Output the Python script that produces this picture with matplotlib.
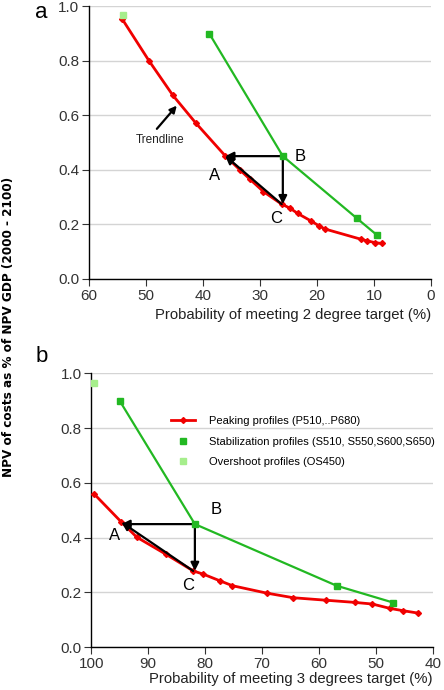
import matplotlib.pyplot as plt
import numpy as np

plt.rcParams['font.family'] = ['Liberation Sans', 'DejaVu Sans']

# panel a: probability of meeting 2 degree target
peak2_x = [54.2, 49.5, 45.3, 41.3, 36.1, 33.5, 31.8, 29.4, 26.2, 24.7, 23.4,
           21.1, 19.6, 18.6, 12.2, 11.3, 9.8, 8.6]
peak2_y = [0.953, 0.800, 0.673, 0.572, 0.451, 0.399, 0.366, 0.320, 0.274,
           0.259, 0.240, 0.213, 0.194, 0.183, 0.145, 0.140, 0.133, 0.130]
stab2_x = [38.9, 26.0, 13.0, 9.5]
stab2_y = [0.899, 0.450, 0.222, 0.161]
over2_x = [54.0]
over2_y = [0.966]

# panel b: probability of meeting 3 degrees target
peak3_x = [99.5, 94.7, 92.0, 86.9, 82.1, 80.3, 77.3, 75.2, 69.2, 64.5, 58.8,
           53.7, 50.6, 47.5, 45.3, 42.6]
peak3_y = [0.559, 0.456, 0.401, 0.339, 0.278, 0.266, 0.241, 0.224, 0.197,
           0.180, 0.171, 0.163, 0.157, 0.141, 0.133, 0.124]
stab3_x = [95.0, 81.8, 56.9, 46.9]
stab3_y = [0.899, 0.449, 0.224, 0.162]
over3_x = [99.5]
over3_y = [0.963]

# triangle points A, B, C
abc2 = {'A': (36.1, 0.451), 'B': (26.0, 0.450), 'C': (26.2, 0.274)}
abc3 = {'A': (94.7, 0.456), 'B': (81.8, 0.449), 'C': (82.1, 0.278)}

red = '#f00000'
green = '#22b822'
light = '#a6ee8c'

fig = plt.figure(figsize=(4.44, 6.90), dpi=100)
ax1 = fig.add_axes((0.2005, 0.5957, 0.7703, 0.3956))
ax2 = fig.add_axes((0.2057, 0.0623, 0.7689, 0.3967))


def style(ax, xlim, xticks, xlabel, pad):
    ax.set_xlim(*xlim)
    ax.set_ylim(0, 1.0)
    ax.set_xticks(xticks)
    ax.set_yticks(np.arange(0, 1.01, 0.2))
    ax.set_yticklabels(['%.1f' % v for v in np.arange(0, 1.01, 0.2)])
    ax.yaxis.grid(True, color='#d4d4d4', lw=1)
    ax.set_axisbelow(True)
    for s in ['top', 'right']:
        ax.spines[s].set_visible(False)
    for s in ['left', 'bottom']:
        ax.spines[s].set_linewidth(1.0)
    ax.tick_params(direction='out', length=5, width=0.8, labelsize=11,
                   colors='#333333', labelcolor='#333333', pad=2)
    ax.set_xlabel(xlabel, fontsize=10.7, color='#222222', loc='right', labelpad=pad)


def arrow(ax, start, end):
    ax.annotate('', xy=end, xytext=start,
                arrowprops=dict(arrowstyle='-|>', color='black', lw=1.6,
                                mutation_scale=12, shrinkA=0, shrinkB=0))


def draw(ax, px, py, sx, sy, ox, oy, abc, offs):
    ax.plot(px, py, color=red, lw=2.0, marker='D', ms=3, zorder=3,
            label='Peaking profiles (P510,..P680)')
    ax.plot(sx, sy, color=green, lw=1.6, zorder=3)
    ax.plot(sx, sy, color=green, ls='none', marker='s', ms=5, zorder=4,
            label='Stabilization profiles (S510, S550,S600,S650)')
    ax.plot(ox, oy, color=light, ls='none', marker='s', ms=5, zorder=4,
            label='Overshoot profiles (OS450)')
    arrow(ax, abc['B'], (abc['A'][0], abc['B'][1]))
    arrow(ax, abc['B'], (abc['B'][0], abc['C'][1]))
    arrow(ax, abc['C'], abc['A'])
    for k, (x, y) in offs.items():
        ax.text(x, y, k, fontsize=12, ha='center', va='center')


style(ax1, (60, 0), [60, 50, 40, 30, 20, 10, 0],
      'Probability of meeting 2 degree target (%)', 4)
draw(ax1, peak2_x, peak2_y, stab2_x, stab2_y, over2_x, over2_y, abc2,
     {'A': (37.9, 0.38), 'B': (23.0, 0.45), 'C': (27.1, 0.22)})
ax1.annotate('', xy=(44.6, 0.635), xytext=(48.1, 0.55),
             arrowprops=dict(arrowstyle='-|>', color='black', lw=1.6,
                             mutation_scale=10, shrinkA=0, shrinkB=0))
ax1.text(47.5, 0.51, 'Trendline', fontsize=8.5, ha='center', va='center',
         color='#222222')

style(ax2, (100, 40), [100, 90, 80, 70, 60, 50, 40],
      'Probability of meeting 3 degrees target (%)', 1)
draw(ax2, peak3_x, peak3_y, stab3_x, stab3_y, over3_x, over3_y, abc3,
     {'A': (96.0, 0.409), 'B': (78.0, 0.503), 'C': (83.0, 0.224)})
ax2.legend(loc='upper left', bbox_to_anchor=(0.22, 0.86), frameon=False,
           fontsize=8, handlelength=2.2, labelspacing=0.95, handletextpad=1.2,
           borderaxespad=0)

fig.text(0.093, 0.997, 'a', fontsize=16, ha='center', va='top')
fig.text(0.093, 0.499, 'b', fontsize=16, ha='center', va='top')
fig.text(0.02, 0.526, 'NPV of costs as % of NPV GDP (2000 - 2100)',
         rotation=90, ha='center', va='center', fontsize=9.6,
         fontweight='bold',
         family=['Liberation Sans Narrow', 'DejaVu Sans Condensed', 'DejaVu Sans'],
         fontstretch='condensed')

fig.savefig('out.png', dpi=100)
